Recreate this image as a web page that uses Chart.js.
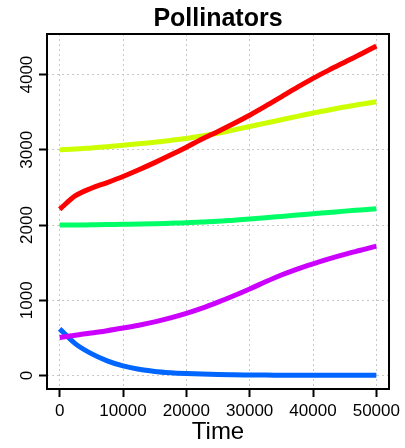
<!DOCTYPE html>
<html>
<head>
<meta charset="utf-8">
<script src="https://cdn.jsdelivr.net/npm/chart.js@4.4.0/dist/chart.umd.min.js"></script>
<style>
  html, body { margin: 0; padding: 0; background: #fff; }
  #wrap { width: 405px; height: 448px; }
</style>
</head>
<body>
<div id="wrap"><canvas id="myChart" width="405" height="448"></canvas></div>
<script>
// time steps (x values)
const time = [0, 2500, 5000, 7500, 10000, 12500, 15000, 17500, 20000, 22500, 25000,
  27500, 30000, 32500, 35000, 37500, 40000, 42500, 45000, 47500, 50000];

// pollinator populations
const red = [2210, 2390, 2490, 2565, 2645, 2735, 2830, 2930, 3035, 3145, 3245,
  3350, 3460, 3580, 3705, 3830, 3950, 4060, 4165, 4270, 4380];
const yellow = [3000, 3010, 3025, 3040, 3060, 3080, 3100, 3125, 3150, 3185, 3220,
  3265, 3310, 3355, 3400, 3445, 3490, 3530, 3570, 3605, 3640];
const green = [2000, 2000, 2003, 2006, 2010, 2013, 2018, 2024, 2030, 2040, 2050,
  2065, 2080, 2097, 2115, 2133, 2150, 2167, 2185, 2200, 2215];
const blue = [620, 420, 290, 195, 128, 82, 54, 37, 26, 18, 12,
  9, 7, 5, 4, 3, 3, 2, 2, 2, 2];
const purple = [505, 535, 565, 595, 630, 668, 712, 765, 825, 895, 975,
  1060, 1150, 1245, 1335, 1415, 1485, 1550, 1610, 1665, 1720];

const xTicks = [0, 10000, 20000, 30000, 40000, 50000];
const yTicks = [0, 1000, 2000, 3000, 4000];

const FONT = '"Liberation Sans", Arial, Helvetica, sans-serif';

function pts(ys) {
  return time.map((t, i) => ({ x: t, y: ys[i] }));
}

function line(ys, col) {
  return {
    data: pts(ys),
    borderColor: col,
    backgroundColor: col,
    borderWidth: 5,
    pointRadius: 0,
    cubicInterpolationMode: 'monotone',
    fill: false
  };
}

// box around plot + rotated y labels (R style)
const boxPlugin = {
  id: 'boxPlugin',
  afterDraw(chart) {
    const ctx = chart.ctx;
    const a = chart.chartArea;
    ctx.save();
    ctx.strokeStyle = '#000';
    ctx.lineWidth = 2;
    ctx.strokeRect(a.left, a.top, a.right - a.left, a.bottom - a.top);

    const ys = chart.scales.y;
    ctx.fillStyle = '#000';
    ctx.font = '17px ' + FONT;
    ctx.textAlign = 'center';
    ctx.textBaseline = 'middle';
    ys.ticks.forEach(t => {
      const py = ys.getPixelForValue(t.value);
      ctx.save();
      ctx.translate(27, py);
      ctx.rotate(-Math.PI / 2);
      ctx.fillText(String(t.value), 0, 0);
      ctx.restore();
    });
    ctx.restore();
  }
};

const gridOpts = {
  color: '#c8c8c8',
  lineWidth: 1,
  drawTicks: true,
  tickLength: 8,
  tickColor: '#000',
  tickWidth: 2,
  tickBorderDash: []
};

const config = {
  type: 'line',
  data: {
    datasets: [
      line(red, '#FF0000'),
      line(yellow, '#CCFF00'),
      line(green, '#00FF66'),
      line(purple, '#CC00FF'),
      line(blue, '#0066FF')
    ]
  },
  options: {
    responsive: false,
    animation: false,
    devicePixelRatio: 1,
    layout: {
      padding: { top: 0, bottom: 0, left: 0, right: 16 }
    },
    plugins: {
      legend: { display: false },
      tooltip: { enabled: false },
      title: {
        display: true,
        text: 'Pollinators',
        fullSize: false,
        color: '#000',
        font: { family: FONT, size: 25, weight: 'bold', lineHeight: 1.16 },
        padding: { top: 5, bottom: 0 }
      }
    },
    scales: {
      x: {
        type: 'linear',
        min: -2000,
        max: 52000,
        afterBuildTicks: s => { s.ticks = xTicks.map(v => ({ value: v })); },
        afterFit: s => { s.height = 59; },
        border: { display: false, dash: [2, 3] },
        grid: gridOpts,
        ticks: {
          color: '#000',
          padding: 4,
          maxRotation: 0,
          font: { family: FONT, size: 17 },
          callback: v => String(v)
        },
        title: {
          display: true,
          text: 'Time',
          color: '#000',
          font: { family: FONT, size: 24 },
          padding: { top: 0, bottom: 1 }
        }
      },
      y: {
        type: 'linear',
        min: -180,
        max: 4540,
        afterBuildTicks: s => { s.ticks = yTicks.map(v => ({ value: v })); },
        afterFit: s => { s.width = 47; },
        border: { display: false, dash: [2, 3] },
        grid: gridOpts,
        ticks: { display: false }
      }
    }
  },
  plugins: [boxPlugin]
};

const myChart = new Chart(document.getElementById('myChart'), config);
</script>
</body>
</html>
